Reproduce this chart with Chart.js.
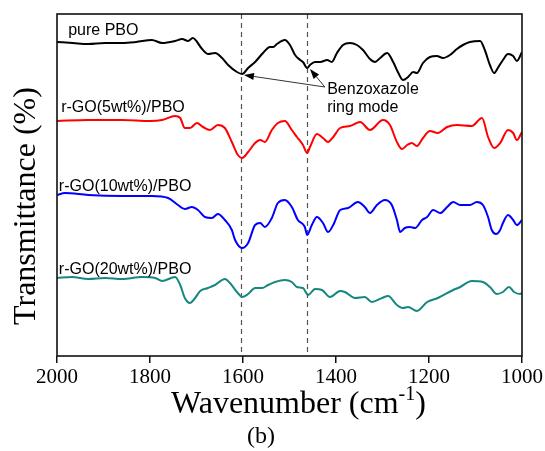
<!DOCTYPE html>
<html>
<head>
<meta charset="utf-8">
<script src="https://cdn.jsdelivr.net/npm/chart.js@4/dist/chart.umd.min.js"></script>
<style>
  html, body { margin: 0; padding: 0; background: #fff; }
  #wrap { width: 545px; height: 451px; position: relative; }
</style>
</head>
<body>
<div id="wrap"><canvas id="ftir"></canvas></div>
<script>
// FTIR spectra (2000-1000 cm-1), curves stacked by offset, arbitrary transmittance units

const xTicks = [2000, 1800, 1600, 1400, 1200, 1000];
const seriesNames = ['pure PBO', 'r-GO(5wt%)/PBO', 'r-GO(10wt%)/PBO', 'r-GO(20wt%)/PBO'];

// pure PBO
const pboWn = [2000,1966,1933,1897,1860,1830,1796,1774,1746,1731,1718,1708,1688,1675,1660,1645,1632,1613,1602,1589,1574,1557,1542,1535,1527,1510,1499,1488,1477,1471,1462,1456,1445,1434,1419,1409,1398,1385,1370,1355,1342,1327,1316,1305,1290,1277,1267,1256,1245,1234,1226,1213,1198,1183,1170,1155,1140,1127,1112,1090,1080,1069,1060,1052,1041,1030,1019,1011,1000];
const pboT  = [314,313,312,313,313,314,316,313,315,317,315,318,307,302,303,298,291,284,282,288,294,303,309,309,312,316,311,301,296,294,288,291,294,294,296,294,303,311,313,311,306,297,294,298,303,294,284,276,279,284,283,293,299,300,298,301,307,311,314,315,306,291,283,288,296,302,300,295,304];

// r-GO(5wt%)/PBO
const go5Wn = [2000,1933,1860,1800,1774,1746,1735,1725,1714,1699,1686,1671,1654,1639,1624,1611,1602,1589,1574,1563,1553,1538,1525,1510,1495,1484,1471,1462,1456,1441,1428,1417,1406,1391,1370,1348,1327,1299,1284,1269,1258,1247,1237,1226,1213,1198,1181,1161,1140,1108,1086,1073,1060,1047,1030,1019,1011,1000];
const go5T  = [235,236,236,235,236,240,238,228,228,233,229,226,231,228,214,201,198,204,213,216,214,226,233,235,226,219,211,203,209,222,218,214,219,228,230,234,226,236,231,214,207,211,213,210,218,225,223,229,231,230,238,219,208,213,226,223,216,224];

// r-GO(10wt%)/PBO
const go10Wn = [2000,1983,1933,1860,1796,1761,1740,1725,1710,1697,1682,1667,1654,1639,1624,1617,1602,1589,1574,1563,1553,1538,1525,1510,1495,1482,1467,1462,1452,1441,1428,1417,1406,1391,1374,1353,1338,1327,1312,1295,1280,1269,1262,1252,1241,1230,1215,1204,1191,1176,1161,1148,1133,1112,1097,1084,1073,1065,1056,1047,1041,1030,1019,1011,1000];
const go10T  = [161,163,161,160,160,158,151,147,149,146,139,138,142,136,126,116,108,113,131,133,129,138,153,156,149,136,129,121,131,139,133,124,131,146,148,154,149,143,151,156,151,136,124,128,129,128,136,139,146,143,149,154,151,151,154,151,139,126,122,126,133,141,136,131,136];

// r-GO(20wt%)/PBO
const go20Wn = [2000,1968,1933,1897,1860,1817,1789,1774,1746,1735,1725,1714,1703,1692,1675,1660,1639,1628,1613,1602,1589,1574,1559,1546,1531,1510,1495,1484,1471,1460,1445,1430,1413,1391,1381,1359,1338,1323,1301,1288,1269,1256,1245,1226,1204,1181,1148,1133,1108,1084,1069,1054,1041,1028,1017,1004,1000];
const go20T  = [78,79,77,78,77,79,78,75,79,71,58,53,58,65,68,71,77,73,64,59,62,68,68,71,74,76,74,69,68,61,67,66,59,65,64,58,59,54,58,60,51,48,49,45,54,58,66,69,75,74,69,62,64,69,64,62,63];

// benzoxazole ring mode bands (dashed lines)
const bandWn = [1605, 1462];

const colors = ['#000000', '#ff0000', '#0000ff', '#15877f'];
const SERIF = '"Liberation Serif", "Times New Roman", serif';
const SANS = '"Liberation Sans", Arial, sans-serif';

// where the labels / arrows sit, in data units
const labelAt = [[1976, 321], [1991, 244], [1996, 165], [1996, 82]];
const arrowFrom = [1424, 269];
const arrowTips = [[1598, 281], [1456, 287]];
const noteLines = [['Benzoxazole', 1419, 262], ['ring mode', 1419, 244]];

function pts(wn, t) {
  return wn.map((w, i) => ({ x: w, y: t[i] }));
}

const spectra = [[pboWn, pboT], [go5Wn, go5T], [go10Wn, go10T], [go20Wn, go20T]];

function arrow(ctx, x0, y0, x1, y1) {
  const a = Math.atan2(y1 - y0, x1 - x0);
  const hl = 10, hw = 3.5;
  const bx = x1 - hl * Math.cos(a), by = y1 - hl * Math.sin(a);
  ctx.beginPath();
  ctx.moveTo(x0, y0);
  ctx.lineTo(bx, by);
  ctx.stroke();
  ctx.beginPath();
  ctx.moveTo(x1, y1);
  ctx.lineTo(bx + hw * Math.sin(a), by - hw * Math.cos(a));
  ctx.lineTo(bx - hw * Math.sin(a), by + hw * Math.cos(a));
  ctx.closePath();
  ctx.fill();
}

const decor = {
  id: 'decor',
  beforeDatasetsDraw(chart) {
    const { ctx, chartArea: ca, scales: { x } } = chart;
    ctx.save();
    ctx.strokeStyle = '#555';
    ctx.lineWidth = 1.2;
    ctx.setLineDash([5, 4]);
    for (const w of bandWn) {
      const px = Math.round(x.getPixelForValue(w)) + 0.5;
      ctx.beginPath();
      ctx.moveTo(px, ca.top);
      ctx.lineTo(px, ca.bottom);
      ctx.stroke();
    }
    ctx.restore();
  },
  afterDatasetsDraw(chart) {
    const { ctx, chartArea: ca, scales: { x, y } } = chart;
    ctx.save();
    // frame
    ctx.strokeStyle = '#111';
    ctx.lineWidth = 1.6;
    ctx.strokeRect(ca.left, ca.top, ca.right - ca.left, ca.bottom - ca.top);

    // curve labels
    ctx.fillStyle = '#000';
    ctx.font = '16px ' + SANS;
    ctx.textBaseline = 'alphabetic';
    ctx.textAlign = 'left';
    seriesNames.forEach((n, i) => {
      ctx.fillText(n, x.getPixelForValue(labelAt[i][0]), y.getPixelForValue(labelAt[i][1]));
    });
    for (const [s, w, t] of noteLines) {
      ctx.fillText(s, x.getPixelForValue(w), y.getPixelForValue(t));
    }

    // arrows
    ctx.strokeStyle = '#333';
    ctx.fillStyle = '#000';
    ctx.lineWidth = 1;
    const fx = x.getPixelForValue(arrowFrom[0]), fy = y.getPixelForValue(arrowFrom[1]);
    for (const [w, t] of arrowTips) {
      arrow(ctx, fx, fy, x.getPixelForValue(w), y.getPixelForValue(t));
    }

    // y axis title (sits a bit below the middle in the original)
    ctx.save();
    ctx.translate(27, (ca.top + ca.bottom) / 2 + 21);
    ctx.rotate(-Math.PI / 2);
    ctx.font = '32px ' + SERIF;
    ctx.textAlign = 'center';
    ctx.textBaseline = 'middle';
    ctx.fillText('Transmittance (%)', 0, 0);
    ctx.restore();

    // x axis title with superscript
    const cx = (ca.left + ca.right) / 2 + 9;
    const base = ca.bottom + 57;
    const big = '32px ' + SERIF, small = '20px ' + SERIF;
    ctx.font = big;
    const w1 = ctx.measureText('Wavenumber (cm').width;
    const w3 = ctx.measureText(')').width;
    ctx.font = small;
    const w2 = ctx.measureText('-1').width;
    let sx = cx - (w1 + w2 + w3) / 2;
    ctx.fillStyle = '#000';
    ctx.font = big;
    ctx.fillText('Wavenumber (cm', sx, base);
    ctx.font = small;
    ctx.fillText('-1', sx + w1, base - 13);
    ctx.font = big;
    ctx.fillText(')', sx + w1 + w2, base);
    ctx.restore();
  }
};

new Chart(document.getElementById('ftir'), {
  type: 'line',
  data: {
    datasets: spectra.map((s, i) => ({
      label: seriesNames[i],
      data: pts(s[0], s[1]),
      borderColor: colors[i],
      borderWidth: 2,
      pointRadius: 0,
      fill: false,
      cubicInterpolationMode: 'monotone'
    }))
  },
  options: {
    responsive: true,
    maintainAspectRatio: false,
    devicePixelRatio: 1,
    animation: false,
    layout: { padding: { top: 14, right: 23, left: 0, bottom: 0 } },
    plugins: {
      legend: { display: false },
      tooltip: { enabled: false },
      subtitle: {
        display: true,
        position: 'bottom',
        text: '(b)',
        color: '#000',
        font: { family: SERIF, size: 24, lineHeight: 1, weight: 'normal' },
        padding: { top: 0, bottom: 2 }
      }
    },
    scales: {
      x: {
        type: 'linear',
        min: 1000,
        max: 2000,
        reverse: true,
        afterBuildTicks: (sc) => { sc.ticks = xTicks.map(v => ({ value: v })); },
        afterFit: (sc) => { sc.height = 69; },
        ticks: {
          color: '#000',
          padding: 2,
          maxRotation: 0,
          autoSkip: false,
          font: { family: SERIF, size: 21, lineHeight: 1.2 },
          callback: (v) => String(v)
        },
        grid: { display: true, drawOnChartArea: false, drawTicks: true, tickLength: 7, color: '#111', lineWidth: 1.5 },
        border: { display: false },
        title: { display: false }
      },
      y: {
        min: 0,
        max: 342,
        afterFit: (sc) => { sc.width = 57; },
        ticks: { display: false },
        grid: { display: false },
        border: { display: false },
        title: { display: false }
      }
    }
  },
  plugins: [decor]
});
</script>
</body>
</html>
